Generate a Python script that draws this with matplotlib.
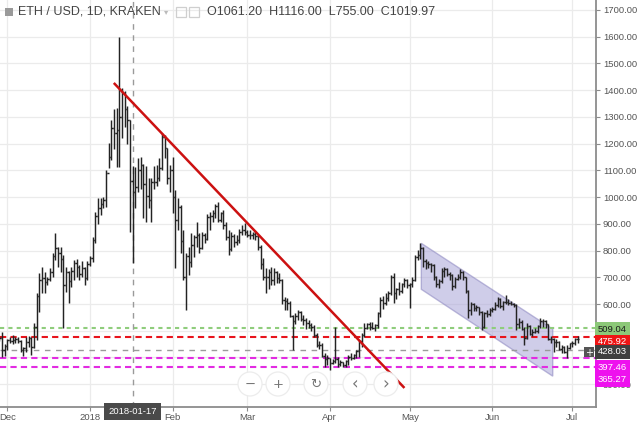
import matplotlib
matplotlib.use('Agg')
import matplotlib.pyplot as plt
import matplotlib.dates as mdates
import matplotlib.transforms as mtrans
from matplotlib.patches import Polygon, Ellipse, Rectangle
import numpy as np
import pandas as pd

plt.rcParams['font.family'] = ['Liberation Sans', 'DejaVu Sans']

# ---------------- data: daily OHLC (open, high, low, close) ----------------
start_date = '2017-11-27'
nov = [(472, 485, 460, 480), (480, 482, 460, 471), (471, 495, 402, 428), (428, 450, 406, 443)]
dec = [(443, 470, 428, 464), (464, 475, 455, 463), (463, 485, 450, 466), (466, 475, 455, 470),
       (470, 475, 455, 463), (463, 465, 420, 428), (428, 440, 405, 434), (434, 475, 420, 456),
       (456, 480, 440, 473), (473, 475, 410, 441), (441, 530, 435, 515), (515, 640, 465, 630),
       (630, 716, 570, 690), (690, 738, 641, 696), (696, 720, 640, 684), (684, 700, 670, 693),
       (693, 735, 685, 720), (720, 790, 700, 780), (780, 866, 765, 810), (810, 815, 740, 790),
       (790, 813, 720, 770), (770, 785, 510, 670), (670, 738, 645, 719), (719, 725, 605, 687),
       (687, 738, 664, 725), (725, 765, 690, 753), (753, 770, 700, 740), (740, 745, 690, 713),
       (713, 760, 700, 735), (735, 740, 670, 698), (698, 760, 690, 750)]
jan = [(750, 780, 742, 772), (772, 850, 756, 840), (840, 945, 830, 930), (930, 995, 900, 960),
       (960, 996, 933, 975), (975, 1000, 960, 990), (990, 1100, 963, 1090), (1090, 1203, 1110, 1150),
       (1150, 1288, 1140, 1260), (1260, 1330, 1180, 1240), (1240, 1333, 1112, 1250), (1250, 1600, 1112, 1300),
       (1300, 1408, 1221, 1390), (1390, 1396, 1263, 1330), (1330, 1340, 1200, 1290), (1290, 1290, 870, 1061),
       (1061.20, 1116, 755, 1019.97), (1020, 1112, 959, 1037), (1037, 1146, 1019, 1100), (1100, 1150, 1030, 1120),
       (1120, 1125, 920, 1049), (1049, 1115, 905, 1003), (1003, 1070, 960, 990), (990, 1071, 907, 1058),
       (1058, 1115, 1030, 1056), (1056, 1120, 1040, 1070), (1070, 1146, 1060, 1107), (1107, 1240, 1100, 1225),
       (1225, 1232, 1146, 1182), (1182, 1185, 1050, 1071), (1071, 1120, 1019, 1100)]
feb = [(1100, 1151, 939, 1000), (1000, 1026, 735, 915), (915, 997, 877, 964), (964, 970, 790, 834),
       (834, 877, 690, 700), (700, 790, 578, 780), (780, 813, 708, 758), (758, 866, 738, 820),
       (820, 860, 776, 850), (850, 907, 813, 860), (860, 865, 790, 811), (811, 870, 805, 860),
       (860, 866, 830, 845), (845, 935, 840, 925), (925, 945, 877, 930), (930, 950, 905, 940),
       (940, 975, 920, 965), (965, 983, 905, 915), (915, 945, 905, 940), (940, 950, 880, 895),
       (895, 908, 840, 849), (849, 877, 783, 806), (806, 868, 800, 855), (855, 862, 815, 833),
       (833, 860, 820, 840), (840, 880, 830, 868), (868, 895, 860, 878), (878, 903, 858, 870)]
mar = [(870, 877, 850, 860), (860, 875, 845, 857), (857, 870, 845, 862), (862, 872, 840, 855),
       (855, 858, 802, 815), (815, 820, 730, 750), (750, 772, 690, 700), (700, 734, 641, 700),
       (700, 731, 656, 720), (720, 738, 671, 690), (690, 735, 670, 720), (720, 725, 680, 697),
       (697, 715, 680, 690), (690, 695, 600, 614), (614, 627, 578, 610), (610, 622, 578, 602),
       (602, 610, 550, 555), (555, 560, 428, 538), (538, 565, 525, 556), (556, 578, 540, 570),
       (570, 575, 535, 545), (545, 560, 520, 540), (540, 548, 505, 530), (530, 540, 510, 522),
       (522, 529, 500, 515), (515, 520, 477, 485), (485, 492, 439, 448), (448, 460, 432, 445),
       (445, 454, 400, 405), (405, 417, 364, 395), (395, 410, 370, 397)]
apr = [(397, 398, 353, 380), (380, 395, 375, 385), (385, 515, 378, 395), (395, 403, 365, 375),
       (375, 390, 368, 382), (382, 384, 363, 370), (370, 390, 365, 385), (385, 409, 372, 400),
       (400, 415, 390, 398), (398, 413, 395, 410), (410, 428, 398, 425), (425, 465, 403, 460),
       (460, 491, 440, 485), (485, 529, 477, 510), (510, 530, 505, 525), (525, 534, 503, 515),
       (515, 534, 505, 512), (512, 525, 500, 520), (520, 571, 509, 565), (565, 627, 552, 615),
       (615, 630, 580, 605), (605, 641, 596, 621), (621, 650, 610, 643), (643, 708, 633, 700),
       (700, 716, 604, 640), (640, 660, 620, 655), (655, 683, 634, 650), (650, 680, 640, 675),
       (675, 697, 664, 688), (688, 695, 660, 670)]
may = [(670, 678, 585, 673), (673, 700, 665, 690), (690, 783, 685, 775), (775, 802, 765, 785),
       (785, 827, 770, 810), (810, 812, 740, 760), (760, 770, 730, 752), (752, 760, 735, 750),
       (750, 755, 720, 745), (745, 748, 690, 700), (700, 705, 665, 675), (675, 695, 660, 685),
       (685, 735, 680, 725), (725, 740, 700, 730), (730, 735, 705, 712), (712, 720, 690, 708),
       (708, 712, 652, 669), (669, 700, 660, 695), (695, 712, 690, 700), (700, 730, 695, 720),
       (720, 725, 690, 700), (700, 702, 640, 649), (649, 652, 546, 576), (576, 609, 560, 600),
       (600, 605, 575, 585), (585, 598, 575, 587), (587, 590, 560, 570), (570, 572, 503, 515),
       (515, 570, 510, 565), (565, 578, 550, 563), (563, 585, 555, 577)]
jun = [(577, 590, 570, 580), (580, 609, 578, 595), (595, 627, 590, 619), (619, 622, 585, 591),
       (591, 610, 578, 608), (608, 634, 600, 607), (607, 620, 598, 605), (605, 612, 595, 601),
       (601, 605, 590, 598), (598, 600, 503, 525), (525, 548, 510, 531), (531, 540, 503, 505),
       (505, 515, 447, 474), (474, 530, 470, 519), (519, 520, 485, 489), (489, 505, 482, 496),
       (496, 510, 492, 500), (500, 520, 490, 518), (518, 548, 510, 537), (537, 545, 515, 536),
       (536, 540, 510, 526), (526, 527, 465, 470), (470, 480, 455, 469), (469, 472, 422, 457),
       (457, 470, 440, 459), (459, 462, 428, 431), (431, 447, 417, 440), (440, 444, 415, 419),
       (419, 447, 399, 435), (435, 455, 430, 454)]
jul = [(454, 462, 440, 453), (453, 472, 447, 468), (468, 480, 455, 470)]

# drawn lines
trend_dates = ['2018-01-09 22:00', '2018-04-29 00:00']
trend_prices = [1427, 286]
channel_dates = ['2018-05-05 08:00', '2018-06-23 16:00', '2018-06-23 16:00', '2018-05-05 08:00']
channel_prices = [827, 506, 330, 655]
level_prices = [509.04, 475.92, 397.46, 365.27]
level_colors = ['#8fcd7c', '#e8141c', '#e22ce2', '#e22ce2']
crosshair_date = '2018-01-17'
crosshair_price = 428.03
header_symbol = 'ETH / USD, 1D, KRAKEN'
header_ohlc = 'O1061.20  H1116.00  L755.00  C1019.97'
month_ticks = ['2017-12-01', '2018-01-01', '2018-02-01', '2018-03-01', '2018-04-01',
               '2018-05-01', '2018-06-01', '2018-07-01']
month_labels = ['Dec', '2018', 'Feb', 'Mar', 'Apr', 'May', 'Jun', 'Jul']
price_ticks = list(range(300, 1800, 100))
hidden_price_labels = [400, 500]   # covered by the price tags in the reference

# ---------------- build ----------------
bars = nov + dec + jan + feb + mar + apr + may + jun + jul
ohlc = pd.DataFrame(bars, columns=['open', 'high', 'low', 'close'])
ohlc.index = pd.date_range(start_date, periods=len(ohlc), freq='D')
x = mdates.date2num(ohlc.index.to_pydatetime())

W, H = 640, 423
fig = plt.figure(figsize=(W / 100, H / 100), dpi=100)
fig.patch.set_facecolor('white')
ax = fig.add_axes([0, 16 / H, 596 / W, 407 / H])

x0 = mdates.date2num(pd.Timestamp('2017-12-01'))
ax.set_xlim(x0 - 2.8, x0 + 220.9)
ax.set_ylim(214.7, 1737.3)

# grid
for t in month_ticks:
    ax.axvline(mdates.date2num(pd.Timestamp(t)), color='#ebebeb', lw=0.9, zorder=0)
for p in price_ticks:
    ax.axhline(p, color='#ebebeb', lw=0.9, zorder=0)

# channel
cx = mdates.date2num(pd.to_datetime(channel_dates).to_pydatetime())
ax.add_patch(Polygon(np.column_stack([cx, channel_prices]), closed=True,
                     facecolor='#a9a4d8', edgecolor='#8a85bf', alpha=0.55, lw=1.0, zorder=1))

# horizontal levels
dash_styles = [(0, (2, 2)), (0, (3, 2)), (0, (3, 2)), (0, (3, 2))]
for p, c, ls in zip(level_prices, level_colors, dash_styles):
    ax.axhline(p, color=c, lw=1.5, ls=ls, zorder=2)

# crosshair
cxh = mdates.date2num(pd.Timestamp(crosshair_date))
ax.axvline(cxh, color='#9a9a9a', lw=1.0, ls=(0, (4, 4)), zorder=2)
ax.axhline(crosshair_price, color='#9a9a9a', lw=1.0, ls=(0, (4, 4)), zorder=2)

# OHLC bars
bar_col = '#232323'
ax.vlines(x, ohlc['low'], ohlc['high'], color=bar_col, lw=1.05, zorder=3)
ax.hlines(ohlc['open'], x - 0.5, x, color=bar_col, lw=1.05, zorder=3)
ax.hlines(ohlc['close'], x, x + 0.5, color=bar_col, lw=1.05, zorder=3)

# trend line
tx = mdates.date2num(pd.to_datetime(trend_dates).to_pydatetime())
ax.plot(tx, trend_prices, color='#cc1111', lw=1.8, zorder=4, solid_capstyle='butt')

# axes styling
for s in ['top', 'left']:
    ax.spines[s].set_visible(False)
ax.spines['right'].set_color('#8c8c8c')
ax.spines['right'].set_linewidth(1.3)
ax.spines['bottom'].set_color('#8c8c8c')
ax.spines['bottom'].set_linewidth(1.3)
ax.yaxis.tick_right()
ax.set_yticks(price_ticks)
ax.set_yticklabels(['' if p in hidden_price_labels else f'{p:.2f}' for p in price_ticks])
ax.set_xticks(mdates.date2num(pd.to_datetime(month_ticks).to_pydatetime()))
ax.set_xticklabels(month_labels)
ax.tick_params(axis='y', length=3, width=0.8, color='#8c8c8c', labelsize=6.8,
               labelcolor='#555555', pad=2)
ax.tick_params(axis='x', length=3, width=0.8, color='#8c8c8c', labelsize=6.8,
               labelcolor='#555555', pad=1.5)
ax.set_facecolor('white')

# price tags on the axis (stacked so they do not overlap)
blend = mtrans.blended_transform_factory(ax.transAxes, ax.transData)
tag_pos = {509.04: 505, 475.92: 459, 397.46: 362, 365.27: 318}
tag_fc = ['#8cc878', '#ee1515', '#ee11ee', '#ee11ee']
tag_tc = ['#1b1b1b', 'white', 'white', 'white']
for p, fc, tc in zip(level_prices, tag_fc, tag_tc):
    ax.text(1.0035, tag_pos[p], f'{p:.2f}', transform=blend, ha='left', va='center',
            fontsize=6.8, color=tc, zorder=10, clip_on=False,
            bbox=dict(boxstyle='square,pad=0.28', fc=fc, ec='none'))
ax.text(1.0035, 421.5, f'{crosshair_price:.2f}', transform=blend, ha='left', va='center',
        fontsize=6.8, color='white', zorder=10, clip_on=False,
        bbox=dict(boxstyle='square,pad=0.28', fc='#3f3f3f', ec='none'))


def fx(px):
    return px / W


def fy(py):
    return 1 - py / H


# "+" button next to crosshair price
fig.patches.append(Rectangle((fx(584), fy(357)), 10 / W, 10 / H, transform=fig.transFigure,
                             fc='#555555', ec='none', zorder=11))
fig.text(fx(589), fy(352.5), '+', ha='center', va='center', color='white', fontsize=7,
         family='DejaVu Sans', zorder=12)

# crosshair date label on x axis
ax.text(cxh, 0.0, crosshair_date,
        transform=mtrans.blended_transform_factory(ax.transData, ax.transAxes),
        ha='center', va='top', fontsize=6.8, color='white', zorder=10, clip_on=False,
        bbox=dict(boxstyle='square,pad=0.45', fc='#4a4a4a', ec='none'))

# navigation buttons
for px, sym in zip([250, 278, 316, 355, 386], ['−', '+', '↻', '‹', '›']):
    fig.patches.append(Ellipse((fx(px), fy(384)), 24 / W, 24 / H, transform=fig.transFigure,
                               fc='white', ec='#ececec', lw=0.9, zorder=8))
    fig.text(fx(px), fy(384.5), sym, ha='center', va='center', color='#777777',
             fontsize=12 if sym in '‹›' else 9.5, family='DejaVu Sans', zorder=9)

# header
fig.patches.append(Rectangle((fx(5), fy(16)), 8 / W, 8 / H, transform=fig.transFigure,
                             fc='#9a9a9a', ec='none', zorder=8))
fig.text(fx(18), fy(12), header_symbol, ha='left', va='center', fontsize=9, color='#444444')
fig.text(fx(166), fy(12), '▾', ha='center', va='center', fontsize=6, color='#bbbbbb',
         family='DejaVu Sans')
for px in [176, 189]:
    fig.patches.append(Rectangle((fx(px), fy(17)), 10 / W, 10 / H, transform=fig.transFigure,
                                 fc='none', ec='#cfcfcf', lw=0.9, zorder=8))
fig.text(fx(207), fy(12), header_ohlc, ha='left', va='center', fontsize=9, color='#444444')

fig.savefig('out.png', dpi=100, facecolor='white')
